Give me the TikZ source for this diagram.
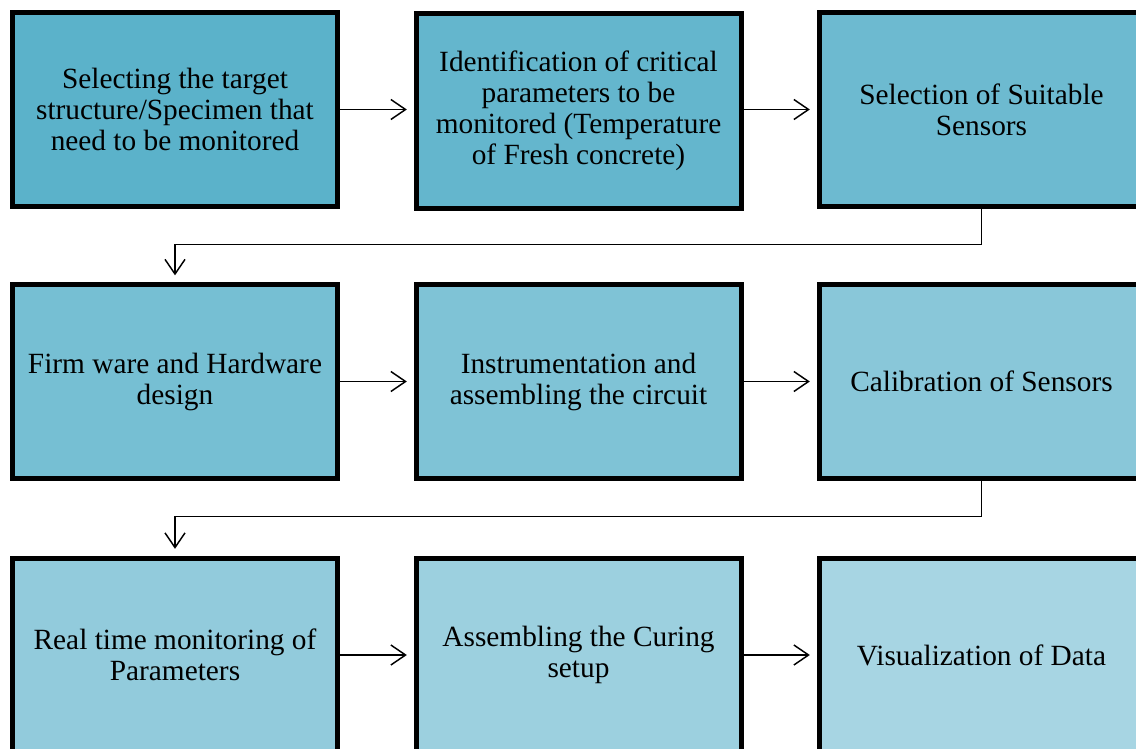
\documentclass[tikz,border=0pt]{standalone}
\usepackage{fontspec}
\setmainfont{Liberation Serif}
\usetikzlibrary{arrows.meta,positioning}
\definecolor{stageA}{RGB}{91,178,202}
\definecolor{stageZ}{RGB}{167,213,227}

\begin{document}
\begin{tikzpicture}[x=0.75pt,y=-0.75pt,
        stage/.style={draw=black,line width=3.75pt,minimum width=243.75pt,minimum height=145.5pt,
            inner sep=0pt,align=center,font=\fontsize{22}{23.25}\selectfont},
        flow/.style={-{Straight Barb[length=11pt,width=15pt]},line width=1.1pt,shorten >=5pt}]
    \useasboundingbox (0,0) rectangle (1136,749);                 % Page frame
    % Row 1
    \node[stage,fill=stageA] (target) at (175,109.5)
        {Selecting the target\\structure/Specimen that\\need to be monitored};
    \node[stage,fill=stageZ!12!stageA] (params) at (578.5,111)
        {Identification of critical\\parameters to be\\monitored (Temperature\\of Fresh concrete)};
    \node[stage,fill=stageZ!24!stageA] (sensors) at (981.5,109.5)
        {Selection of Suitable\\Sensors};
    % Row 2
    \node[stage,fill=stageZ!36!stageA] (firmware) at (175,381.5)
        {Firm ware and Hardware\\design};
    \node[stage,fill=stageZ!48!stageA] (circuit) at (578.5,381.5)
        {Instrumentation and\\assembling the circuit};
    \node[stage,fill=stageZ!60!stageA] (calib) at (981.5,381.5)
        {Calibration of Sensors};
    % Row 3 (cut off by the page edge)
    \node[stage,fill=stageZ!72!stageA] (monitor) at (175,655)
        {Real time monitoring of\\Parameters};
    \node[stage,fill=stageZ!86!stageA] (curing) at (578.5,655)
        {Assembling the Curing\\setup};
    \node[stage,fill=stageZ] (visual) at (981.5,655)
        {Visualization of Data};
    % Connectors
    \draw[flow] (target) -- (target-|params.west);
    \draw[flow] (target-|params.east) -- (target-|sensors.west);
    \draw[flow] (sensors.south) -- ++(0,35.5) -| (firmware.north);   % Back to row 2
    \draw[flow] (firmware) -- (circuit);
    \draw[flow] (circuit) -- (calib);
    \draw[flow] (calib.south) -- ++(0,35.5) -| (monitor.north);      % Back to row 3
    \draw[flow] (monitor) -- (curing);
    \draw[flow] (curing) -- (visual);
\end{tikzpicture}
\end{document}
